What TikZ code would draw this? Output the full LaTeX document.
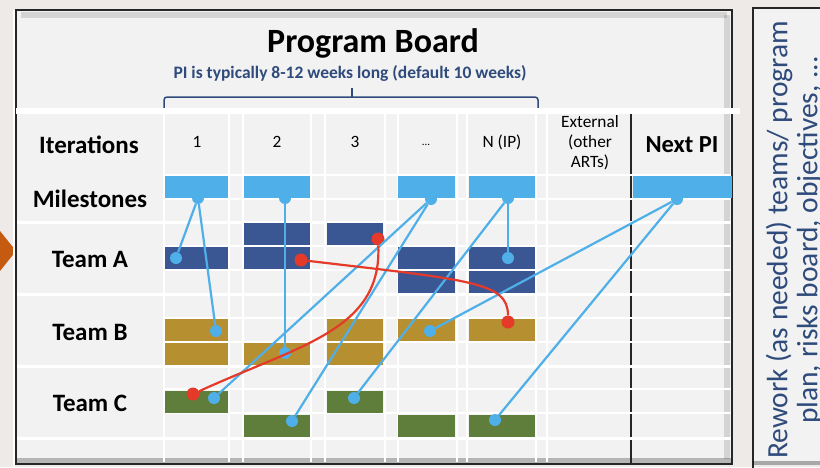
\documentclass[tikz,border=0pt]{standalone}
\usepackage{fontspec}
\setmainfont{Carlito}
\definecolor{bgout}{HTML}{EDEAE8}
\definecolor{panel}{HTML}{F2F2F2}
\definecolor{msblue}{HTML}{4FAFE8}
\definecolor{teamA}{HTML}{3B5793}
\definecolor{teamB}{HTML}{B68F30}
\definecolor{teamC}{HTML}{5F7E3C}
\definecolor{redl}{HTML}{E5392A}
\definecolor{txtblue}{HTML}{2F4B7C}
\definecolor{orng}{HTML}{C55A11}
\definecolor{frame}{HTML}{262626}
\begin{document}
\begin{tikzpicture}[x=1pt,y=-1pt,
  bar/.style={rectangle, inner sep=0pt, minimum height=22pt, draw=none},
  cA/.style={minimum width=63pt},
  cB/.style={minimum width=66pt},
  cC/.style={minimum width=56pt},
  cD/.style={minimum width=57pt},
  cE/.style={minimum width=66pt},
  ms/.style={bar, fill=msblue},
  ta/.style={bar, fill=teamA},
  tb/.style={bar, fill=teamB},
  tc/.style={bar, fill=teamC},
  bdot/.style={circle, fill=msblue, inner sep=0pt, minimum size=12pt},
  rdot/.style={circle, fill=redl, inner sep=0pt, minimum size=13pt},
  bline/.style={draw=msblue, line width=2.2pt},
  rline/.style={draw=redl, line width=2.2pt},
  gthin/.style={draw=white, line width=2pt},
  gthick/.style={draw=white, line width=3pt},
  rowlab/.style={font=\fontsize{25}{28}\selectfont\bfseries},
  collab/.style={font=\fontsize{17.3}{20}\selectfont, align=center}
]
\useasboundingbox (0,0) rectangle (820,467);
\clip (0,0) rectangle (820,467);
\fill[bgout] (0,0) rectangle (820,467);
% orange arrow tip
\fill[orng] (0,231) -- (16,251) -- (0,271) -- cycle;
% left white edge
\draw[white, line width=2pt] (14,10) -- (14,467);
% board panel
\fill[panel] (16,10) rectangle (732,464);
\draw[black, opacity=0.12, line width=6pt] (21,15) -- (727,15);
\draw[black, opacity=0.12, line width=6pt] (727,15) -- (727,459);
\draw[black, opacity=0.25, line width=5pt] (16,460) -- (732,460);
\draw[frame, line width=2.5pt] (16,10) rectangle (732,464);
% right panel
\fill[panel] (753,8) rectangle (830,465);
\draw[frame, line width=2pt] (753,480) -- (753,8) -- (830,8);
\draw[black, opacity=0.3, line width=4pt] (753,463) -- (830,463);

% title and brace
\node[font=\fontsize{34}{40}\selectfont\bfseries] (title) at (373,43) {Program Board};
\node[font=\fontsize{17.5}{20}\selectfont\bfseries, text=txtblue] (sub) at (350,73) {PI is typically 8-12 weeks long (default 10 weeks)};
\draw[txtblue, line width=1.5pt, rounded corners=3pt] (164,110) -- (164,97) -- (538,97) -- (538,110);
\draw[txtblue, line width=1.5pt] (352,97) -- (352,88);

% dark Next PI divider
\draw[frame, line width=2.5pt] (631,114) -- (631,464);

% grid
\draw[white, line width=6pt] (16,111) -- (740,111);
\foreach \x in {164,229,243,311,325,385,398,457,467,536,547}
  \draw[gthin] (\x,114) -- (\x,462);
\foreach \y in {175,199,246,270,318,342,389,413}
  \draw[gthin] (164,\y) -- (731,\y);
\foreach \y in {222,294,366,438}
  \draw[gthick] (17,\y) -- (731,\y);

% labels
\node[rowlab] (lit) at (89,145) {Iterations};
\node[rowlab] (lms) at (90,199) {Milestones};
\node[rowlab] (lta) at (90,259) {Team A};
\node[rowlab] (ltb) at (90,332) {Team B};
\node[rowlab] (ltc) at (90,403) {Team C};
\node[collab] (h1) at (197,142) {1};
\node[collab] (h2) at (277,142) {2};
\node[collab] (h3) at (355,142) {3};
\node[font=\fontsize{11}{12}\selectfont] (h4) at (426,145) {...};
\node[collab] (h5) at (502,142) {N (IP)};
\node[collab] (hext) at (590,143) {External\\(other\\ARTs)};
\node[font=\fontsize{24.5}{28}\selectfont\bfseries] (hnext) at (682,145) {Next PI};

% milestone bars
\node[ms,cA] (m1) at (196.5,186.5) {};
\node[ms,cB] (m2) at (277,186.5) {};
\node[ms,cD] (m4) at (426.5,186.5) {};
\node[ms,cE] (m5) at (502,186.5) {};
\node[ms,minimum width=99pt] (mn) at (682.5,186.5) {};
% team A
\node[ta,cA] (a1) at (196.5,258) {};
\node[ta,cB] (a2t) at (277,233.5) {};
\node[ta,cB] (a2) at (277,258) {};
\node[ta,cC] (a3t) at (355,233.5) {};
\node[ta,cD] (a4) at (426.5,258) {};
\node[ta,cD] (a4b) at (426.5,282) {};
\node[ta,cE] (a5) at (502,258) {};
\node[ta,cE] (a5b) at (502,282) {};
% team B
\node[tb,cA] (b1t) at (196.5,330) {};
\node[tb,cA] (b1b) at (196.5,354) {};
\node[tb,cB] (b2) at (277,354) {};
\node[tb,cC] (b3t) at (355,330) {};
\node[tb,cC] (b3b) at (355,354) {};
\node[tb,cD] (b4) at (426.5,330) {};
\node[tb,cE] (b5) at (502,330) {};
% team C
\node[tc,cA] (c1t) at (196.5,401.5) {};
\node[tc,cB] (c2b) at (277,425.5) {};
\node[tc,cC] (c3t) at (355,401.5) {};
\node[tc,cD] (c4b) at (426.5,425.5) {};
\node[tc,cE] (c5b) at (502,425.5) {};

% dots
\node[bdot] (dm1) at (198,198) {};
\node[bdot] (dm2) at (285,198) {};
\node[bdot] (dm4) at (431,199) {};
\node[bdot] (dm5) at (508,198) {};
\node[bdot] (dmn) at (677,199) {};
\node[bdot] (da1) at (176,258) {};
\node[bdot] (da5) at (508,258) {};
\node[bdot] (db1) at (216,331) {};
\node[bdot] (db2) at (285,353) {};
\node[bdot] (db4) at (430,331) {};
\node[bdot] (dc1) at (214,398) {};
\node[bdot] (dc2) at (292,421) {};
\node[bdot] (dc3) at (354,398) {};
\node[bdot] (dc5) at (495,420) {};
\node[rdot] (ra2) at (301,260) {};
\node[rdot] (rb5) at (508,322) {};
\node[rdot] (ra3) at (378,239) {};
\node[rdot] (rc1) at (193,394) {};

% dependency lines
\draw[bline] (dm1) -- (da1);
\draw[bline] (dm1) -- (db1);
\draw[bline] (dm2) -- (db2);
\draw[bline] (dm4) -- (dc1);
\draw[bline] (dm4) -- (dc2);
\draw[bline] (dm5) -- (dc3);
\draw[bline] (dm5) -- (da5);
\draw[bline] (dmn) -- (db4);
\draw[bline] (dmn) -- (dc5);
\draw[rline] (ra2) .. controls (470,280) and (508,282) .. (rb5);
\draw[rline] (ra3) .. controls (382,330) and (300,345) .. (rc1);

% right panel text
\node[rotate=90, align=center, text=txtblue, font=\fontsize{29.5}{30}\selectfont] (rework) at (794,240) {Rework (as needed) teams/ program\\plan, risks board, objectives, ...};
\end{tikzpicture}
\end{document}
